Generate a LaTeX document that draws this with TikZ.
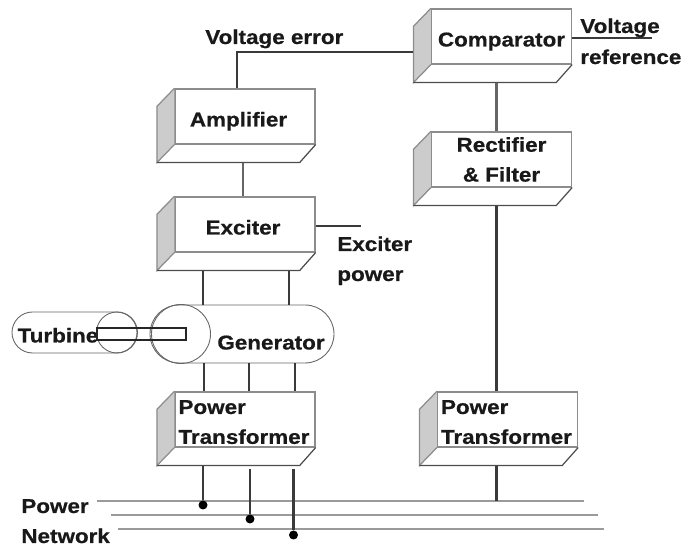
\documentclass[tikz,border=0pt]{standalone}
\usepackage{fontspec}
\setmainfont[FakeStretch=1.12,BoldFeatures={FakeStretch=1.12,FakeBold=0.6}]{Liberation Sans}
\usetikzlibrary{calc}
\definecolor{edgegray}{HTML}{8C8C8C}
\definecolor{sidegray}{HTML}{CCCCCC}
\definecolor{wiregray}{HTML}{3A3A3A}
\definecolor{busgray}{HTML}{9A9A9A}
\tikzset{
  txt/.style={font=\fontsize{11.4}{17}\selectfont\bfseries, text=black!90},
  block/.style={txt, draw=edgegray, line width=0.7pt, fill=white, minimum width=2.8cm, minimum height=1.1cm, inner sep=0pt, text height=0.4cm, text depth=0pt},
  blocktwo/.style={block, text height=, text depth=, align=center, execute at begin node=\rule{0pt}{0.38cm}},
  blockleft/.style={block, text height=, text depth=, align=left, text width=2.66cm, execute at begin node=\rule{0pt}{0.38cm}},
  wire/.style={draw=wiregray, line width=1.4pt},
  bus/.style={draw=busgray, line width=1.1pt},
  drum/.style={txt, draw=black!60, line width=0.5pt, inner sep=0pt},
  dot/.style={circle, fill=black, inner sep=0pt, minimum size=0.18cm},
  lab/.style={txt, anchor=base west, inner sep=0pt, align=left},
}
\begin{document}
\begin{tikzpicture}
\useasboundingbox (0,0) rectangle (13.68,10.92);
%%%%%%%%%%
% Blocks
%%%%%%%%%%
\node[block] (amp) at (4.9,8.59) {\hspace*{-0.26cm}Amplifier};
\node[block] (exc) at (4.9,6.43) {\hspace*{-0.08cm}Exciter};
\node[block] (cmp) at (10.03,10.19) {Comparator};
\node[blocktwo] (rect) at (10.03,7.73) {Rectifier\\\& Filter};
\node[blockleft] (xfmrL) at (4.9,2.53) {Power\\Transformer};
\node[blockleft] (xfmrR) at (10.15,2.53) {Power\\Transformer};

% side and bottom faces
\foreach \n in {amp,exc,cmp,rect,xfmrL,xfmrR} {
\fill[sidegray] (\n.north west) -- ++(-0.35,-0.36) -- ($(\n.south west)+(-0.35,-0.36)$) -- (\n.south west) -- cycle;
\draw[edgegray, line width=0.7pt] (\n.north west) -- ++(-0.35,-0.36) -- ($(\n.south west)+(-0.35,-0.36)$) -- (\n.south west);
\draw[black!70, line width=0.7pt] ($(\n.south west)+(-0.35,-0.36)$) -- ($(\n.south east)+(-0.32,-0.36)$) -- (\n.south east);
\coordinate (\n-base) at ($(\n.south)+(0,-0.36)$);
}

%%%%%%%%%%
% Turbine and generator
%%%%%%%%%%
\node[drum, rounded corners=0.41cm, minimum width=2.5cm, minimum height=0.82cm, text height=0.4cm, text depth=0pt] (tur) at (1.49,4.27) {\hspace*{-0.66cm}Turbine};
\node[drum, circle, minimum size=0.82cm] (turcap) at (2.34,4.27) {};
\node[drum, fill=white, rounded corners=0.58cm, minimum width=3.68cm, minimum height=1.16cm, text height=0.62cm, text depth=0pt] (gen) at (4.84,4.24) {\hspace*{1.16cm}Generator};
\node[drum, circle, minimum size=1.18cm] (gencap) at (3.62,4.24) {};
\node[draw=black!85, line width=1.1pt, inner sep=0pt, minimum width=1.78cm, minimum height=0.24cm] (shaft) at (2.83,4.24) {};

%%%%%%%%%%
% Busbars
%%%%%%%%%%
\coordinate (busAw) at (1.94,0.90);
\coordinate (busAe) at (11.68,0.90);
\coordinate (busBw) at (2.22,0.62);
\coordinate (busBe) at (11.96,0.62);
\coordinate (busCw) at (2.36,0.34);
\coordinate (busCe) at (12.08,0.34);
\draw[bus] (busAw) -- (busAe);
\draw[bus] (busBw) -- (busBe);
\draw[bus] (busCw) -- (busCe);

% Phase positions
\coordinate (exL) at (4.06,0);
\coordinate (exR) at (5.78,0);
\coordinate (phA) at (4.08,0);
\coordinate (phB) at (4.98,0);
\coordinate (phC) at (5.90,0);
\coordinate (ampLink) at (4.86,0);
\coordinate (rightLink) at (9.93,0);
\node[dot] (dotA) at (4.06,0.82) {};
\node[dot] (dotB) at (5.00,0.54) {};
\node[dot] (dotC) at (5.87,0.22) {};
\coordinate (tapB) at (5.00,1.54);
\coordinate (tapC) at (5.87,1.54);

%%%%%%%%%%
% Connectors
%%%%%%%%%%
\coordinate (errCorner) at (4.74,9.88);
\draw[wire] (amp.north -| errCorner) -- (errCorner) -- ($(errCorner -| cmp.west)+(-0.35,0)$);
\draw[wire, draw=black!60] (ampLink |- amp-base) -- (ampLink |- exc.north);
\draw[wire] (exL |- exc-base) -- (exL |- gen.north);
\draw[wire] (exR |- exc-base) -- (exR |- gen.north);
\draw[wire] (phA |- gen.south) -- (phA |- xfmrL.north);
\draw[wire] (phB |- gen.south) -- (phB |- xfmrL.north);
\draw[wire] (phC |- gen.south) -- (phC |- xfmrL.north);
\draw[wire] (exL |- xfmrL-base) -- (dotA);
\draw[wire] (tapB) -- (dotB);
\draw[wire] (tapC) -- (dotC);
\draw[wire, draw=black!60] (rightLink |- cmp-base) -- (rightLink |- rect.north);
\draw[wire] (rightLink |- rect-base) -- (rightLink |- xfmrR.north);
\draw[wire] (rightLink |- xfmrR-base) -- (rightLink |- busAe);

% Free ends
\coordinate (excEnd) at (7.22,6.40);
\coordinate (refEnd) at (13.04,10.16);
\draw[wire] (excEnd -| exc.east) -- (excEnd);
\draw[wire] (refEnd -| cmp.east) -- (refEnd);

%%%%%%%%%%
% Labels
%%%%%%%%%%
\node[lab] (errLab) at (4.10,10.04) {Voltage error};
\node[lab] (excLab) at (6.74,5.90) {Exciter};
\node[lab] (excLabB) at (6.74,5.30) {power};
\node[lab] (refLab) at (11.60,10.26) {Voltage};
\node[lab] (refLabB) at (11.60,9.64) {reference};
\node[lab] (powLab) at (0.42,0.66) {Power};
\node[lab] (netLab) at (0.42,0.06) {Network};
\end{tikzpicture}
\end{document}
